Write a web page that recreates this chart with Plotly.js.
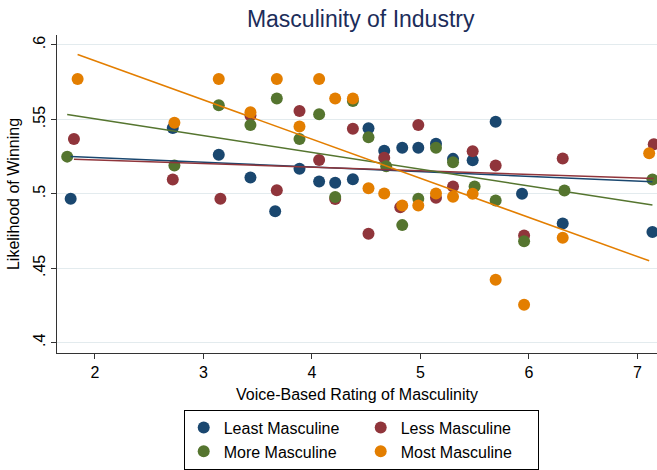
<!DOCTYPE html>
<html>
<head>
<meta charset="utf-8">
<script src="https://cdn.plot.ly/plotly-3.0.1.min.js"></script>
<style>html,body{margin:0;padding:0;background:#fff;}#chart{width:657px;height:470px;}</style>
</head>
<body>
<div id="chart"></div>
<script>
// Series names
var seriesNames = ['Least Masculine', 'Less Masculine', 'More Masculine', 'Most Masculine'];
// legend column of each series (two-column legend)
var legendCols = ['col1', 'col2', 'col1', 'col2'];

// Voice-based rating of masculinity (x) and likelihood of winning (y) per group
var xLeast = [1.776, 2.717, 3.141, 3.433, 3.661, 3.885, 4.066, 4.214, 4.377, 4.521, 4.666, 4.832, 4.980, 5.143, 5.300, 5.481, 5.693, 5.936, 6.311, 7.138];
var yLeast = [0.4967, 0.5443, 0.5262, 0.5110, 0.4883, 0.5168, 0.5083, 0.5074, 0.5098, 0.5440, 0.5289, 0.5309, 0.5309, 0.5336, 0.5235, 0.5226, 0.5485, 0.5000, 0.4801, 0.4743];

var xLess = [1.806, 2.717, 3.156, 3.433, 3.676, 3.885, 4.066, 4.214, 4.377, 4.521, 4.666, 4.814, 4.980, 5.143, 5.300, 5.481, 5.693, 5.955, 6.311, 7.150];
var yLess = [0.5369, 0.5096, 0.4967, 0.5526, 0.5024, 0.5557, 0.5228, 0.4965, 0.5438, 0.4732, 0.5242, 0.4910, 0.5463, 0.4973, 0.5049, 0.5286, 0.5190, 0.4720, 0.5237, 0.5333];

var xMore = [1.744, 2.732, 3.141, 3.433, 3.676, 3.885, 4.066, 4.214, 4.377, 4.521, 4.684, 4.832, 4.980, 5.143, 5.300, 5.499, 5.693, 5.955, 6.327, 7.138];
var yMore = [0.5250, 0.5190, 0.5595, 0.5463, 0.5640, 0.5369, 0.5534, 0.4979, 0.5624, 0.5380, 0.5185, 0.4790, 0.4967, 0.5309, 0.5212, 0.5049, 0.4955, 0.4682, 0.5022, 0.5096];

var xMost = [1.840, 2.732, 3.141, 3.433, 3.676, 3.885, 4.066, 4.214, 4.377, 4.521, 4.666, 4.832, 4.980, 5.143, 5.300, 5.481, 5.693, 5.955, 6.311, 7.108];
var yMost = [0.5772, 0.5477, 0.5772, 0.5548, 0.5772, 0.5452, 0.5772, 0.5640, 0.5640, 0.5038, 0.5002, 0.4922, 0.4922, 0.5002, 0.4980, 0.5000, 0.4423, 0.4255, 0.4705, 0.5273];

// Axis ticks
var xTickVals = [2, 3, 4, 5, 6, 7];
var yTickVals = [0.4, 0.45, 0.5, 0.55, 0.6];
var yTickText = ['.4', '.45', '.5', '.55', '.6'];

var colors = ['#1a476f', '#90353b', '#55752f', '#e37e00'];
var xs = [xLeast, xLess, xMore, xMost];
var ys = [yLeast, yLess, yMore, yMost];

// Ordinary least squares fit (linear fit line per group)
function lfit(x, y) {
  var n = x.length, mx = 0, my = 0;
  for (var i = 0; i < n; i++) { mx += x[i]; my += y[i]; }
  mx /= n; my /= n;
  var sxy = 0, sxx = 0;
  for (var j = 0; j < n; j++) { sxy += (x[j] - mx) * (y[j] - my); sxx += (x[j] - mx) * (x[j] - mx); }
  var b = sxy / sxx, a = my - b * mx;
  var x0 = Math.min.apply(null, x), x1 = Math.max.apply(null, x);
  return { x: [x0, x1], y: [a + b * x0, a + b * x1] };
}

var traces = [];
for (var k = 0; k < 4; k++) {
  traces.push({
    type: 'scatter', mode: 'markers', name: seriesNames[k], legendgroup: legendCols[k],
    x: xs[k], y: ys[k],
    marker: { color: colors[k], size: 12, line: { width: 0 } },
    cliponaxis: false
  });
}
for (var m = 0; m < 4; m++) {
  var f = lfit(xs[m], ys[m]);
  traces.push({
    type: 'scatter', mode: 'lines', x: f.x, y: f.y, legendgroup: legendCols[m],
    line: { color: colors[m], width: 1.5 }, showlegend: false, hoverinfo: 'skip'
  });
}

var fontFam = 'Liberation Sans, Arial, Helvetica, sans-serif';
var layout = {
  width: 657, height: 470,
  margin: { l: 57, r: 0, t: 35, b: 117, autoexpand: false },
  paper_bgcolor: '#ffffff', plot_bgcolor: '#ffffff',
  font: { family: fontFam, color: '#000000', size: 16 },
  title: {
    text: 'Masculinity of Industry',
    font: { family: fontFam, size: 23, color: '#1c2d5a' },
    x: 0.549, xanchor: 'center', xref: 'container',
    y: 0.960, yanchor: 'middle', yref: 'container'
  },
  xaxis: {
    range: [1.65, 7.18], tickmode: 'array', tickvals: xTickVals,
    showline: true, linecolor: '#333333', linewidth: 1,
    ticks: 'outside', ticklen: 5, tickcolor: '#333333',
    showgrid: false, zeroline: false,
    tickfont: { size: 16 },
    title: { text: 'Voice-Based Rating of Masculinity', font: { size: 16 }, standoff: 8 }
  },
  yaxis: {
    range: [0.3931, 0.6067], tickmode: 'array', tickvals: yTickVals, ticktext: yTickText,
    tickangle: -90,
    showline: true, linecolor: '#333333', linewidth: 1,
    ticks: 'outside', ticklen: 5, tickcolor: '#333333',
    showgrid: true, gridcolor: '#e3ebee', gridwidth: 1, zeroline: false,
    tickfont: { size: 16 },
    title: { text: 'Likelihood of Winning', font: { size: 16 }, standoff: 6 }
  },
  showlegend: true,
  legend: {
    orientation: 'h', x: 0.507, xanchor: 'center', y: -0.178, yanchor: 'top',
    bordercolor: '#000000', borderwidth: 1, bgcolor: '#ffffff',
    font: { size: 16 }, entrywidth: 132, itemwidth: 30,
    traceorder: 'grouped', tracegroupgap: 0
  }
};

Plotly.newPlot('chart', traces, layout, { displayModeBar: false, staticPlot: true });
</script>
</body>
</html>
